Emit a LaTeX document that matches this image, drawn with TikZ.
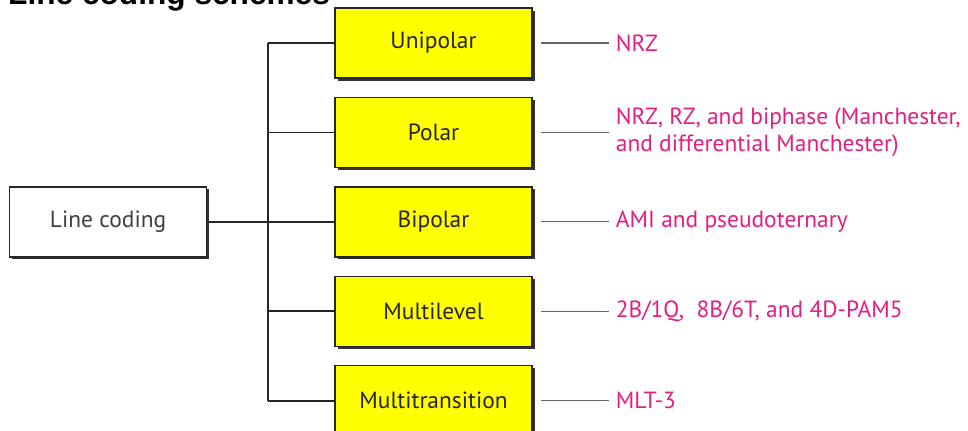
\documentclass[tikz,border=0pt]{standalone}
\usepackage{fontspec}
\setmainfont{PT Sans}
\newfontfamily\headfont{Liberation Sans}
\usetikzlibrary{positioning,shadows}
\definecolor{schemepink}{RGB}{226,30,128}
\definecolor{boxyellow}{RGB}{255,255,0}

\begin{document}
\begin{tikzpicture}[
node distance=0.54cm and 3.81cm,
  ynode/.style={draw=black!85,line width=1.2pt,rectangle,fill=boxyellow,minimum width=5.91cm,minimum height=2.1cm,
    font=\fontsize{20}{24}\selectfont,text=black!85,
    drop shadow={shadow xshift=0.08cm,shadow yshift=-0.08cm,fill=black!80,opacity=1}},
  wnode/.style={ynode,fill=white,text=black!75},
  tnode/.style={anchor=west,inner sep=0pt,align=left,text=schemepink,
    font=\fontsize{20}{22.5}\selectfont},
  tline/.style={draw=black!60,line width=1pt,shorten <=0.24cm,shorten >=0.21cm},
  bline/.style={draw=black!85,line width=1.5pt}
]
\useasboundingbox (0,0) rectangle (29.04,-12.9);
\node[anchor=base west,inner sep=0pt,font=\headfont\bfseries\fontsize{27}{30}\selectfont] (title) at (0.24,-0.12) {Line coding schemes};

% the five groups
\node[ynode] (uni) at (13.005,-1.29) {Unipolar};
\node[ynode,below=of uni] (pol) {Polar};
\node[ynode,below=of pol] (bip) {Bipolar};
\node[ynode,below=of bip] (mlv) {Multilevel};
\node[ynode,below=of mlv] (mtr) {Multitransition};
\node[wnode,left=of bip] (lc) {Line coding};

% schemes in each group
\node[tnode,right=2.49cm of uni] (tuni) {NRZ};
\node[tnode,right=2.49cm of pol] (tpol) {NRZ, RZ, and biphase (Manchester,\\and differential Manchester)};
\node[tnode,right=2.49cm of bip] (tbip) {AMI and pseudoternary};
\node[tnode,right=2.49cm of mlv] (tmlv) {2B/1Q,\ \ 8B/6T, and 4D-PAM5};
\node[tnode,right=2.49cm of mtr] (tmtr) {MLT-3};

% bus
\coordinate (bus) at (8.04,0);
\draw[bline] (lc.east) -- (lc.east -| bus);
\draw[bline] (uni.west -| bus) -- (mtr.west -| bus);
\foreach \n in {uni,pol,bip,mlv,mtr}
  \draw[bline] (\n.west -| bus) -- (\n.west);

\foreach \n in {uni,pol,bip,mlv,mtr}
  \draw[tline] (\n.east) -- (t\n.west);
\end{tikzpicture}
\end{document}
